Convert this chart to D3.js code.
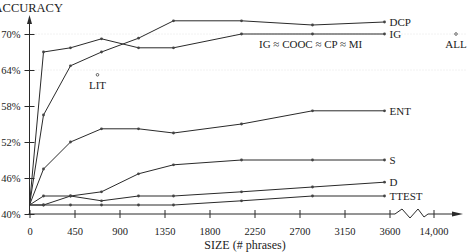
<!DOCTYPE html>
<html>
<head>
<meta charset="utf-8">
<script src="https://cdn.jsdelivr.net/npm/d3@7"></script>
<style>
  body { margin: 0; background: #fff; }
  svg text { font-family: "Liberation Serif", "Times New Roman", Times, "DejaVu Serif", serif !important; fill: #222; }
</style>
</head>
<body>
<div id="chart"></div>
<script>
// sizes where each method was measured (# phrases)
const sizes = [0, 140, 410, 720, 1090, 1440, 2120, 2830, 3550];

const dcp   = [41.5, 56.5, 64.7, 67.0, 69.3, 72.2, 72.2, 71.5, 72.0];
const ig    = [41.5, 67.0, 67.7, 69.2, 67.7, 67.7, 70.0, 70.0, 70.0];
const ent   = [41.5, 47.5, 52.0, 54.2, 54.2, 53.5, 55.0, 57.2, 57.2];
const sVals = [41.5, 41.5, 43.0, 43.7, 46.7, 48.2, 49.0, 49.0, 49.0];
const dVals = [41.5, 43.0, 43.0, 42.2, 43.0, 43.0, 43.7, 44.5, 45.3];
const ttest = [41.5, 41.5, 41.5, 41.5, 41.5, 41.5, 42.2, 43.0, 43.0];

const seriesNames = ["DCP", "IG", "ENT", "S", "D", "TTEST"];
const seriesValues = [dcp, ig, ent, sVals, dVals, ttest];

const xTicks = [0, 450, 900, 1350, 1800, 2250, 2700, 3150, 3600];
const yTicks = [40, 46, 52, 58, 64, 70];
const gridLevels = [64, 70];

// single points
const lit = { size: 680, acc: 63.2, label: "LIT" };
const all = { size: 16000, acc: 70.0, label: "ALL" };
const brokenTick = 14000;
const tieLabel = "IG \u2248 COOC \u2248 CP \u2248 MI";

const width = 475, height = 252;
const serif = "'Liberation Serif', 'Times New Roman', Times, serif";

const svg = d3.select("#chart").append("svg")
    .attr("width", width)
    .attr("height", height)
    .attr("font-family", serif);

const x = d3.scaleLinear().domain([0, 3600]).range([29.5, 389.5]);
// part of the axis after the break
const xFar = d3.scaleLinear().domain([14000, 16000]).range([433.5, 456]);
const y = d3.scaleLinear().domain([40, 70]).range([214, 34]);

const ink = "#2a2a2a";

// faint dotted grid
svg.selectAll(".grid")
    .data(gridLevels)
    .enter().append("line")
    .attr("x1", x(0)).attr("x2", 466)
    .attr("y1", d => y(d)).attr("y2", d => y(d))
    .attr("stroke", "#e4e4e4")
    .attr("stroke-dasharray", "1,2");

// y axis
const yAxis = svg.append("g")
    .attr("transform", `translate(${x(0)},0)`)
    .call(d3.axisLeft(y).tickValues(yTicks).tickSize(5).tickFormat(d => d + "%"));
yAxis.attr("font-family", serif).attr("font-size", 10.5);
yAxis.select(".domain").remove();
yAxis.selectAll(".tick line").attr("x1", -5).attr("x2", 5).attr("stroke", ink);
yAxis.selectAll(".tick text")
    .attr("x", -9)
    .attr("fill", ink);

svg.append("line")
    .attr("x1", x(0)).attr("x2", x(0))
    .attr("y1", y(40)).attr("y2", 20)
    .attr("stroke", ink);
svg.append("path")
    .attr("d", `M${x(0)},15 L${x(0) - 2.5},24 L${x(0) + 2.5},24 Z`)
    .attr("fill", ink);

// x axis
const xAxis = svg.append("g")
    .attr("transform", `translate(0,${y(40)})`)
    .call(d3.axisBottom(x).tickValues(xTicks).tickSize(4).tickFormat(d3.format("d")));
xAxis.attr("font-family", serif).attr("font-size", 10.5);
xAxis.select(".domain").remove();
xAxis.selectAll(".tick line").attr("y1", -4).attr("y2", 4).attr("stroke", ink);
xAxis.selectAll(".tick text")
    .attr("y", 14)
    .attr("fill", ink);

const farAxis = svg.append("g")
    .attr("transform", `translate(0,${y(40)})`)
    .call(d3.axisBottom(xFar).tickValues([brokenTick]).tickSize(4).tickFormat(d3.format(",")));
farAxis.attr("font-family", serif).attr("font-size", 10.5);
farAxis.select(".domain").remove();
farAxis.selectAll(".tick line").attr("y1", -4).attr("y2", 4).attr("stroke", ink);
farAxis.selectAll(".tick text")
    .attr("y", 14)
    .attr("fill", ink);

const y0 = y(40);
svg.append("path")
    .attr("d", `M${x(0) - 1},${y0} H395 L402,${y0 - 5} L410,${y0 + 4} L418,${y0 - 5} L424,${y0 + 3} L428,${y0} H455`)
    .attr("fill", "none")
    .attr("stroke", ink);
svg.append("path")
    .attr("d", `M463,${y0} L452,${y0 - 2.5} L452,${y0 + 2.5} Z`)
    .attr("fill", ink);

// axis titles
svg.append("text")
    .attr("x", 63).attr("y", 12)
    .attr("text-anchor", "end")
    .style("font-size", "12.5px")
    .text("ACCURACY");

svg.append("text")
    .attr("x", 245).attr("y", 249)
    .attr("text-anchor", "middle")
    .style("font-size", "12px")
    .text("SIZE (# phrases)");

// series lines
const line = d3.line()
    .x((d, i) => x(sizes[i]))
    .y(d => y(d));

const groups = svg.selectAll(".series")
    .data(seriesValues)
    .enter().append("g")
    .attr("class", "series");

groups.append("path")
    .attr("d", d => line(d))
    .attr("fill", "none")
    .attr("stroke", ink)
    .attr("stroke-width", 1);

groups.selectAll("circle")
    .data(d => d.slice(1))
    .enter().append("circle")
    .attr("cx", (d, i) => x(sizes[i + 1]))
    .attr("cy", d => y(d))
    .attr("r", 1.4)
    .attr("fill", "#444");

groups.append("text")
    .attr("x", d => x(sizes[sizes.length - 1]) + 5)
    .attr("y", d => y(d[d.length - 1]))
    .attr("dy", "0.35em")
    .style("font-size", "11px")
    .text((d, i) => seriesNames[i]);

// LIT and ALL
svg.append("circle")
    .attr("cx", x(lit.size)).attr("cy", y(lit.acc))
    .attr("r", 1.3)
    .attr("fill", "#fff").attr("stroke", ink).attr("stroke-width", 0.7);
svg.append("text")
    .attr("x", x(lit.size)).attr("y", y(lit.acc) + 14)
    .attr("text-anchor", "middle")
    .style("font-size", "11px")
    .text(lit.label);

svg.append("circle")
    .attr("cx", xFar(all.size)).attr("cy", y(all.acc))
    .attr("r", 1.3)
    .attr("fill", "#fff").attr("stroke", ink).attr("stroke-width", 0.7);
svg.append("text")
    .attr("x", xFar(all.size)).attr("y", y(all.acc) + 14)
    .attr("text-anchor", "middle")
    .style("font-size", "11px")
    .text(all.label);

svg.append("text")
    .attr("x", 259).attr("y", y(70) + 14)
    .style("font-size", "11px")
    .text(tieLabel);
</script>
</body>
</html>
